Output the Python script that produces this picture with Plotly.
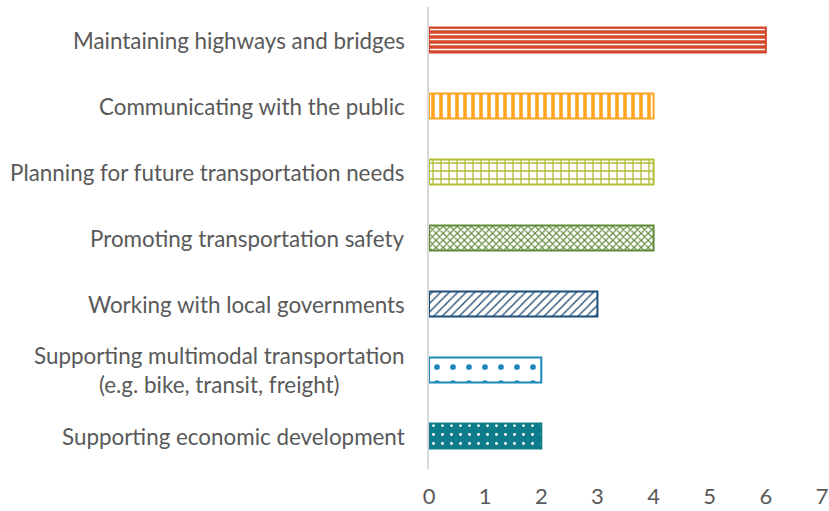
import plotly.graph_objects as go

categories = [
    "Maintaining highways and bridges",
    "Communicating with the public",
    "Planning for future transportation needs",
    "Promoting transportation safety",
    "Working with local governments",
    "Supporting multimodal transportation<br>(e.g. bike, transit, freight)",
    "Supporting economic development",
]
values = [6, 4, 4, 4, 3, 2, 2]
colors = ["#D5482A", "#FDA51E", "#B4BE38", "#628A3B", "#1E4D78", "#1C87B9", "#0D7D8C"]
shapes = ["-", "|", "+", "x", "/", ".", "."]
fg = ["#FFFFFF", "#FDA51E", "#B4BE38", "#628A3B", "#1E4D78", "#1C87B9", "#FFFFFF"]
bg = ["#D5482A", "#FFFFFF", "#FFFFFF", "#FFFFFF", "#FFFFFF", "#FFFFFF", "#0D7D8C"]
sizes = [5, 8, 8, 5, 6, 16, 9]
solid = [0.3, 0.45, 0.3, 0.4, 0.22, 0.1, 0.08]
x_ticks = [0, 1, 2, 3, 4, 5, 6, 7]

font_family = "Lato, Open Sans, sans-serif"

fig = go.Figure()
for i, (c, v) in enumerate(zip(categories, values)):
    fig.add_trace(go.Bar(
        x=[v], y=[c], orientation="h", width=0.38,
        marker=dict(
            color=bg[i],
            line=dict(color=colors[i], width=2),
            pattern=dict(shape=shapes[i], fgcolor=fg[i], bgcolor=bg[i],
                         size=sizes[i], solidity=solid[i], fillmode="replace"),
        ),
        showlegend=False, hoverinfo="x+y",
    ))

for c in categories:
    fig.add_annotation(
        x=0, xref="paper", y=c, yref="y", text=c, showarrow=False,
        xanchor="right", align="center", xshift=-22,
        font=dict(family=font_family, size=22.4, color="#595959"),
    )

fig.update_layout(
    width=829, height=511,
    margin=dict(l=429, r=7, t=7, b=42, autoexpand=False),
    plot_bgcolor="white", paper_bgcolor="white",
    xaxis=dict(range=[0, 7], tickvals=x_ticks, showgrid=False, zeroline=False,
               showline=False, ticks="", ticklabelstandoff=12, automargin=False,
               tickfont=dict(family=font_family, size=22, color="#595959")),
    yaxis=dict(categoryorder="array", categoryarray=categories, autorange="reversed",
               showticklabels=False, showgrid=False, ticks="", automargin=False,
               showline=True, linecolor="#D9D9D9", linewidth=2, zeroline=False),
)

fig.write_html("out.html", config={"displayModeBar": False},
               post_script="document.body.style.margin='0';document.body.style.padding='0';")
